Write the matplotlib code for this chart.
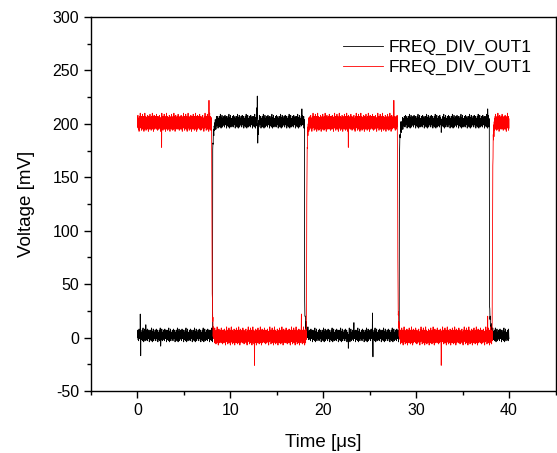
import numpy as np
import matplotlib
matplotlib.use('Agg')
import matplotlib.pyplot as plt
from matplotlib.ticker import MultipleLocator

plt.rcParams['font.family'] = ['Liberation Sans', 'DejaVu Sans']
plt.rcParams['axes.unicode_minus'] = False

# time base of the scope capture (us)
t_start, t_stop, t_step = 0.0, 40.0, 0.025

# switching instants (us), first entry of black is a rising edge, of red a falling edge
black_switch = [8.1, 18.0, 28.2, 37.9]
red_switch = [8.0, 18.2, 28.0, 38.2]

# levels (mV)
black_high, black_low = 202.0, 2.0
red_high, red_low = 201.0, 1.0

# noise pattern (mV offsets, repeated along the trace)
black_noise = [3, -2, 5, -4, 1, -5, 2, 6, -1, -3, 4, -2, 0, 5, -6, 2, -1, 3, -4, 1,
               5, -2, -5, 3, 7, -3, 0, -6, 4, 2, -4, 6, -1, -5, 3, 1, -3]
red_noise = [5, -4, 7, -5, 4, -6, 3, -8, 5, -4, 6, -5, 9, -4, 5, -3, 6, -7, 4, -5,
             6, -4, 8, -6, 5, -4, 6, -5, -8, 4, -6, 5, 9, -4, 3, -5, 6, -7, 5, -4,
             4, -6, 5, -5, 7, -4, 6, -8, 4, -5, 5, -3, 6, -6, 8, -5, 4, -4, 5, -7,
             6, -5, 3, -6, 9, -4, 5, -5, 6, -8, 4, -4, 7, -6, 5, -3, 4, -5, 6, -4,
             5, -6, 8, -4, 4, -5, 6, -7, 5, -4, 3, -6, 6]

# settling after each edge (mV distance from final level, sample by sample)
black_settle = [30, 22, 17, 13, 10, 8, 7, 6, 5, 4, 4, 3, 3, 2, 2, 2, 1, 1, 1]
red_settle = [150, 80, 45, 28, 18, 12, 8, 5, 3, 2, 1]

# isolated glitches (us, mV)
black_spike_t = [0.30, 0.35, 0.9, 2.5, 12.85, 12.9, 12.95, 13.0, 17.7, 22.7, 23.3, 25.3, 25.35, 32.7, 37.7]
black_spike_v = [22, -17, 12, -8, 215, 226, 182, 190, 214, -10, 14, 23, -18, 192, 214]
red_spike_t = [2.6, 7.7, 12.6, 17.65, 22.7, 27.6, 32.7, 37.7]
red_spike_v = [178, 222, -26, 22, 178, 222, -26, 20]


def build_trace(t, switches, start_high, high, low, noise, settle, spike_t, spike_v):
    n = np.searchsorted(switches, t, side='right')
    is_high = (n % 2 == 0) == start_high
    v = np.where(is_high, high, low) + np.resize(np.array(noise, float), len(t))
    for s in switches:
        k = np.searchsorted(t, s)
        sign = -1 if is_high[min(k, len(t) - 1)] else 1
        for j, d in enumerate(settle):
            if k + j < len(t):
                v[k + j] += sign * d
    for ts, vs in zip(spike_t, spike_v):
        v[np.argmin(np.abs(t - ts))] = vs
    return v


t = np.arange(t_start, t_stop + t_step / 2, t_step)
v_black = build_trace(t, black_switch, False, black_high, black_low,
                      black_noise, black_settle, black_spike_t, black_spike_v)
v_red = build_trace(t, red_switch, True, red_high, red_low,
                    red_noise, red_settle, red_spike_t, red_spike_v)

fig = plt.figure(figsize=(5.57, 4.53), dpi=100)
ax = fig.add_axes([91 / 557, 1 - 391 / 453, 464.5 / 557, 374 / 453])

ax.plot(t, v_black, color='black', lw=0.6, label='FREQ_DIV_OUT1')
ax.plot(t, v_red, color='red', lw=0.6, label='FREQ_DIV_OUT1')

ax.set_xlim(-5, 45)
ax.set_ylim(-50, 300)
ax.xaxis.set_major_locator(MultipleLocator(10))
ax.xaxis.set_minor_locator(MultipleLocator(5))
ax.yaxis.set_major_locator(MultipleLocator(50))
ax.yaxis.set_minor_locator(MultipleLocator(25))
ax.tick_params(which='major', direction='out', length=5, width=1, labelsize=11.5)
ax.tick_params(which='minor', direction='out', length=3, width=1)
for sp in ax.spines.values():
    sp.set_linewidth(1)

ax.set_xlabel('Time [\u03bcs]', fontsize=13.5, labelpad=12)
ax.set_ylabel('Voltage [mV]', fontsize=13.5, labelpad=13)

ax.legend(loc='upper left', bbox_to_anchor=(0.5425, 0.94), frameon=False,
          borderaxespad=0, borderpad=0, handlelength=2.3, handletextpad=0.3,
          labelspacing=0.3, fontsize=12.5)

fig.savefig('out.png', dpi=100)
